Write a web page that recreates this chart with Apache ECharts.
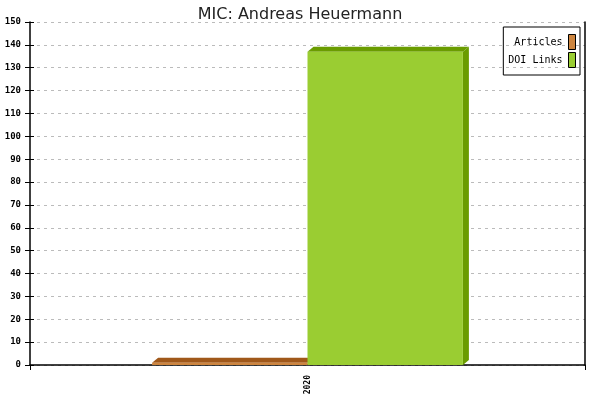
<!DOCTYPE html>
<html lang="en">
<head>
    <meta charset="UTF-8">
    <title>MIC: Andreas Heuermann</title>
    <script src="https://cdn.jsdelivr.net/npm/echarts@6.0.0/dist/echarts.min.js"></script>
    <style>
        html, body { margin: 0; padding: 0; background: #fff; }
        #chart-container { width: 600px; height: 400px; }
    </style>
</head>
<body>
<div id="chart-container"></div>

<script>
    // data
    var categories = ["2020"];
    var articles = [1];
    var doiLinks = [137];
    var seriesNames = ["Articles", "DOI Links"];

    var mono = "DejaVu Sans Mono";

    // front / top+side colours per series
    var faces = [
        { front: "#cd853f", dark: "#a0581a" },
        { front: "#9acd32", dark: "#6a9c00" }
    ];

    // draws a bar with a small 3d top and side
    function make3dBar(idx) {
        return function (params, api) {
            var value = api.value(1);
            var base = api.coord([api.value(0), 0]);
            var top = api.coord([api.value(0), value]);
            var band = api.size([1, 0])[0];
            var w = band * 0.28;
            var x = idx === 0 ? base[0] - w : base[0];
            var dx = 6, dy = 5;
            var c = faces[idx];
            return {
                type: "group",
                children: [
                    {
                        type: "polygon",
                        shape: { points: [[x, top[1]], [x + dx, top[1] - dy], [x + w + dx, top[1] - dy], [x + w, top[1]]] },
                        style: { fill: c.dark }
                    },
                    {
                        type: "polygon",
                        shape: { points: [[x + w, top[1]], [x + w + dx, top[1] - dy], [x + w + dx, base[1] - dy], [x + w, base[1]]] },
                        style: { fill: c.dark }
                    },
                    {
                        type: "rect",
                        shape: { x: x, y: top[1], width: w, height: base[1] - top[1] },
                        style: { fill: c.front }
                    }
                ]
            };
        };
    }

    var option = {
        animation: false,
        title: {
            text: "MIC: Andreas Heuermann",
            left: "center",
            top: 2,
            textStyle: { fontFamily: "DejaVu Sans", fontSize: 16, fontWeight: "normal", color: "#222" }
        },
        legend: {
            data: seriesNames,
            orient: "vertical",
            align: "right",
            right: 20,
            top: 27,
            padding: [7, 4, 7, 5],
            itemGap: 2,
            itemWidth: 7,
            itemHeight: 15,
            icon: "rect",
            borderColor: "#000",
            borderWidth: 1,
            itemStyle: { borderColor: "#000", borderWidth: 1 },
            textStyle: { fontFamily: mono, fontSize: 10, color: "#000", padding: [0, 1, 0, 0] }
        },
        grid: { left: 30, right: 15, top: 22, bottom: 35 },
        xAxis: {
            type: "category",
            data: categories,
            boundaryGap: true,
            axisLine: { lineStyle: { color: "#000", width: 1.5 } },
            axisTick: { show: true, length: 5, lineStyle: { color: "#000" } },
            axisLabel: { rotate: 90, fontFamily: mono, fontSize: 8, fontWeight: "bold", color: "#000", margin: 10 }
        },
        yAxis: [
            {
                type: "value",
                min: 0, max: 150, interval: 10,
                axisLine: { show: true, lineStyle: { color: "#000", width: 1.5 } },
                axisTick: { show: true, length: 5, lineStyle: { color: "#000" } },
                axisLabel: { fontFamily: mono, fontSize: 9, fontWeight: "bold", color: "#000", margin: 9 },
                splitLine: { show: true, lineStyle: { color: "#bbb", type: [3, 4] } }
            },
            {
                type: "value",
                position: "left",
                min: 0, max: 150, interval: 10,
                axisLine: { show: false },
                axisTick: { show: true, inside: true, length: 4, lineStyle: { color: "#000" } },
                axisLabel: { show: false },
                splitLine: { show: false }
            },
            {
                type: "value",
                position: "right",
                min: 0, max: 150, interval: 10,
                axisLine: { show: true, lineStyle: { color: "#000", width: 1.5 } },
                axisTick: { show: false },
                axisLabel: { show: false },
                splitLine: { show: false }
            }
        ],
        series: [
            {
                name: seriesNames[0],
                type: "custom",
                renderItem: make3dBar(0),
                itemStyle: { color: faces[0].front },
                encode: { x: 0, y: 1 },
                data: categories.map(function (c, i) { return [i, articles[i]]; })
            },
            {
                name: seriesNames[1],
                type: "custom",
                renderItem: make3dBar(1),
                itemStyle: { color: faces[1].front },
                encode: { x: 0, y: 1 },
                data: categories.map(function (c, i) { return [i, doiLinks[i]]; })
            }
        ]
    };

    var chart = echarts.init(document.getElementById("chart-container"));
    chart.setOption(option);
</script>
</body>
</html>
